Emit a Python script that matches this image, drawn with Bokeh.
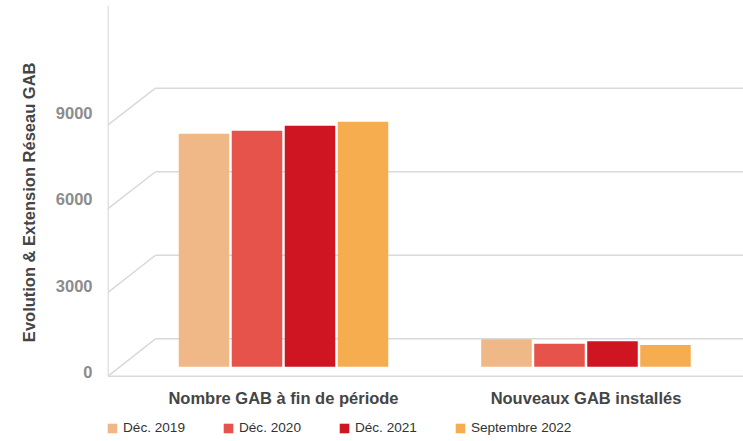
from bokeh.plotting import figure
from bokeh.models import (Range1d, LinearAxis, FixedTicker, Legend, LegendItem,
                          ColumnDataSource, Title)
from bokeh.core.properties import value
from bokeh.transform import dodge
from bokeh.embed import file_html
from bokeh.resources import INLINE

# ---- data ----
categories = ["Nombre GAB à fin de période", "Nouveaux GAB installés"]
series = ["Déc. 2019", "Déc. 2020", "Déc. 2021", "Septembre 2022"]
dec_2019 = [8350, 990]
dec_2020 = [8460, 825]
dec_2021 = [8640, 920]
sep_2022 = [8780, 780]
y_ticks = [0, 3000, 6000, 9000]
y_title = "Evolution & Extension Réseau GAB"

colors = ["#EFB886", "#E5534A", "#CE1521", "#F5AD50"]
FONT = "Liberation Sans"

source = ColumnDataSource(dict(
    xpos=[i + 0.5 for i in range(len(categories))],
    label=categories,
    d2019=dec_2019, d2020=dec_2020, d2021=dec_2021, s2022=sep_2022,
))

W, H = 743, 441
p = figure(width=W, height=H, output_backend="svg", toolbar_location=None,
           x_range=Range1d(-0.0818, 2.0207), y_range=Range1d(-2677, 13129),
           x_axis_location=None, y_axis_location=None,
           min_border_left=107, min_border_right=0, min_border_top=0,
           min_border_bottom=0)
p.outline_line_color = None
p.background_fill_color = "white"
p.border_fill_color = "white"
for g in p.grid:
    g.visible = False

# pseudo-3D box (decoration in frame pixel units)
p.extra_x_ranges = {"px": Range1d(107, W)}
p.extra_y_ranges = {"px": Range1d(H, 0), "front": Range1d(-2404, 12893)}
grid_col = "#D9D9D9"
back_y = [338.3 - v * 250.6 / 9000 for v in y_ticks]
front_y = [375.7 - v * 251.4 / 9000 for v in y_ticks]
p.segment(x0=107.5, y0=5, x1=107.5, y1=375.7, x_range_name="px", y_range_name="px",
          line_color=grid_col, line_width=1.5)
p.segment(x0=107.5, y0=375.7, x1=W, y1=375.7, x_range_name="px", y_range_name="px",
          line_color=grid_col, line_width=1.5)
p.segment(x0=[107.5] * len(y_ticks), y0=front_y, x1=[155] * len(y_ticks), y1=back_y,
          x_range_name="px", y_range_name="px", line_color=grid_col, line_width=1.5)
p.segment(x0=[155] * len(y_ticks), y0=back_y, x1=[W] * len(y_ticks), y1=back_y,
          x_range_name="px", y_range_name="px", line_color=grid_col, line_width=1.5)

# bars
step = 0.1752
bw = 0.167
fields = ["d2019", "d2020", "d2021", "s2022"]
renderers = []
for k, (f, c) in enumerate(zip(fields, colors)):
    r = p.vbar(x=dodge("xpos", (k - 1.5) * step, range=p.x_range), top=f, bottom=0,
               width=bw, source=source, fill_color=c, line_color=None)
    renderers.append(r)

# category labels (x from the data scale, y in frame pixels)
p.text(x="xpos", y=397, text="label", source=source, y_range_name="px",
       text_align="center", text_baseline="middle", text_font=value(FONT),
       text_font_style="bold", text_font_size="16.5px", text_color="#454545")

# y axis on the front face of the box
yaxis = LinearAxis(y_range_name="front", ticker=FixedTicker(ticks=y_ticks),
                   axis_line_color=None, major_tick_line_color=None,
                   minor_tick_line_color=None, major_tick_in=0, major_tick_out=0,
                   minor_tick_in=0, minor_tick_out=0, major_label_standoff=15,
                   major_label_text_font=FONT, major_label_text_font_style="bold",
                   major_label_text_font_size="16.5px", major_label_text_color="#8C8C8C")
p.add_layout(yaxis, "left")

ytitle = Title(text=y_title, align="right", offset=62, standoff=25,
               vertical_align="top",
               text_font=FONT, text_font_style="bold", text_font_size="16.5px",
               text_color="#454545")
p.add_layout(ytitle, "left")

legend = Legend(items=[LegendItem(label=s, renderers=[r]) for s, r in zip(series, renderers)],
                orientation="horizontal", location=(-1, 6),
                glyph_width=12, glyph_height=12, label_standoff=5, spacing=37,
                padding=0, margin=0, border_line_color=None, background_fill_alpha=0,
                label_text_font=FONT, label_text_font_size="13.6px",
                label_text_color="#333333")
p.add_layout(legend, "center")

open("out.html", "w").write(file_html(p, INLINE))
